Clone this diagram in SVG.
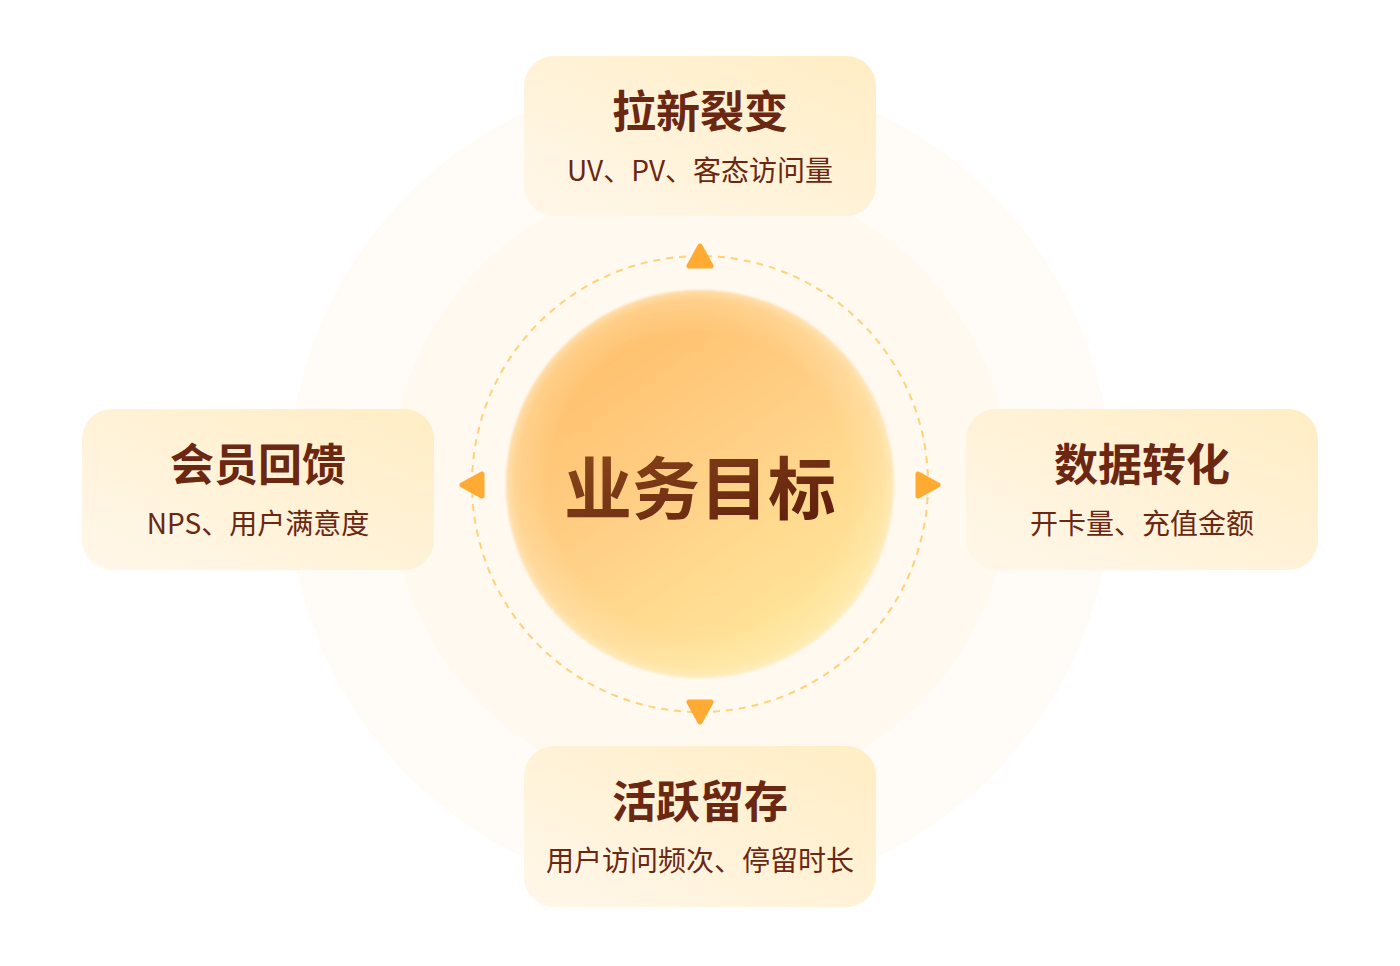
<svg xmlns="http://www.w3.org/2000/svg" width="1400" height="966" viewBox="0 0 1400 966">
<defs>
<style>
.box{fill:url(#boxGrad);}
.title{font-family:"Noto Sans CJK SC","Noto Sans",sans-serif;font-weight:700;font-size:44px;fill:#6A2712;text-anchor:middle;}
.sub{font-family:"Noto Sans CJK SC","Noto Sans",sans-serif;font-weight:400;font-size:28px;fill:#6A2712;text-anchor:middle;}
.arrow{fill:#FFAA33;stroke:#FFAA33;stroke-width:5;stroke-linejoin:round;}
</style>
<linearGradient id="boxGrad" x1="1" y1="0" x2="0" y2="1">
<stop offset="0" stop-color="#FFEDC4"/>
<stop offset="1" stop-color="#FFF7EA"/>
</linearGradient>
<linearGradient id="sunGrad" x1="0.2" y1="0.15" x2="0.75" y2="0.95">
<stop offset="0" stop-color="#FFC06C"/>
<stop offset="0.45" stop-color="#FFD087"/>
<stop offset="1" stop-color="#FFE89C"/>
</linearGradient>
<radialGradient id="sunEdge" cx="0.5" cy="0.5" r="0.5">
<stop offset="0.78" stop-color="#FFF2D0" stop-opacity="0"/>
<stop offset="0.95" stop-color="#FFF0CC" stop-opacity="0.3"/>
<stop offset="1" stop-color="#FFF3D8" stop-opacity="0.6"/>
</radialGradient>
<linearGradient id="txtGrad" x1="0" y1="0" x2="1" y2="1">
<stop offset="0" stop-color="#8E4D1C"/>
<stop offset="1" stop-color="#5C1A0C"/>
</linearGradient>
<filter id="soft" x="-10%" y="-10%" width="120%" height="120%">
<feGaussianBlur stdDeviation="1.2"/>
</filter>
</defs>
<rect width="1400" height="966" fill="#FFFFFF"/>
<g id="background">
<circle cx="700" cy="485" r="412" fill="#FFFCF7"/>
<circle cx="700" cy="485" r="310" fill="#FFF9F0"/>
</g>
<g id="connectors">
<circle cx="700" cy="484" r="228" fill="none" stroke="#FFD27A" stroke-width="2" stroke-dasharray="7 6"/>
<polygon class="arrow" points="700,246 689,266 711,266"/>
<polygon class="arrow" points="700,722 689,702 711,702"/>
<polygon class="arrow" points="462,485 482,474 482,496"/>
<polygon class="arrow" points="938,485 918,474 918,496"/>
</g>
<g id="center">
<g filter="url(#soft)">
<circle cx="700" cy="484" r="194" fill="url(#sunGrad)"/>
<circle cx="700" cy="484" r="194" fill="url(#sunEdge)"/>
</g>
<text x="700" y="514" font-family="Noto Sans CJK SC, Noto Sans, sans-serif" font-weight="700" font-size="68" fill="url(#txtGrad)" text-anchor="middle">业务目标</text>
</g>
<g id="node-top">
<rect class="box" x="524" y="56" width="352" height="160" rx="30"/>
<text class="title" x="700" y="128">拉新裂变</text>
<text class="sub" x="700" y="181">UV、PV、客态访问量</text>
</g>
<g id="node-left">
<rect class="box" x="82" y="409" width="352" height="161" rx="30"/>
<text class="title" x="258" y="481">会员回馈</text>
<text class="sub" x="258" y="534">NPS、用户满意度</text>
</g>
<g id="node-right">
<rect class="box" x="966" y="409" width="352" height="161" rx="30"/>
<text class="title" x="1142" y="481">数据转化</text>
<text class="sub" x="1142" y="534">开卡量、充值金额</text>
</g>
<g id="node-bottom">
<rect class="box" x="524" y="746" width="352" height="161" rx="30"/>
<text class="title" x="700" y="818">活跃留存</text>
<text class="sub" x="700" y="871">用户访问频次、停留时长</text>
</g>
</svg>
